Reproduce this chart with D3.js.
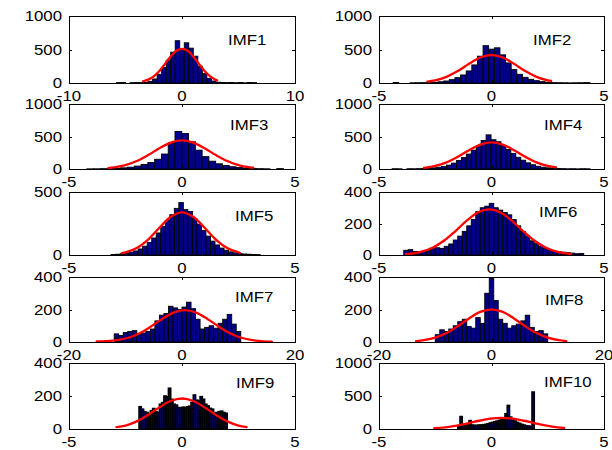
<!DOCTYPE html>
<html><head><meta charset="utf-8">
<script src="https://cdn.jsdelivr.net/npm/d3@7/dist/d3.min.js"></script>
<style>body{margin:0;background:#fff}</style>
</head><body>
<svg id="c" width="612" height="450"></svg>
<script>
// ---------- data ----------
const panelNames = ["IMF1","IMF2","IMF3","IMF4","IMF5","IMF6","IMF7","IMF8","IMF9","IMF10"];
const xLimits = [[-10,10],[-5,5],[-5,5],[-5,5],[-5,5],[-5,5],[-20,20],[-20,20],[-5,5],[-5,5]];
const yLimits = [[0,1000],[0,1000],[0,1000],[0,1000],[0,500],[0,400],[0,400],[0,400],[0,400],[0,1000]];
const xTickValues = [[-10,0,10],[-5,0,5],[-5,0,5],[-5,0,5],[-5,0,5],[-5,0,5],[-20,0,20],[-20,0,20],[-5,0,5],[-5,0,5]];
const yTickValues = [[0,500,1000],[0,500,1000],[0,500,1000],[0,500,1000],[0,500],[0,200,400],[0,200,400],[0,200,400],[0,200,400],[0,500,1000]];

// histogram bins: first edge and bin width
const binStart = [-6.2,-4.375,-4.51,-4.42,-3.14,-3.9,-12,-10,-1.9,-1.5];
const binWidth = [0.4,0.25,0.3,0.22,0.2,0.2,0.8,0.8,0.1,0.1];

const imf1Counts = [0,6,8,0,5,8,6,10,25,60,130,230,340,460,631,510,600,520,400,250,140,70,30,12,8,6,8,4,8,3,7,5];
const imf2Counts = [8,0,0,3,4,5,6,10,18,30,50,80,120,180,270,400,557,505,525,420,300,200,130,85,55,35,20,12,6,4,3,2,3,4,6];
const imf3Counts = [0,2,3,5,8,12,18,28,45,70,100,150,230,400,577,545,420,290,190,120,80,55,35,22,14,9,5,3,0,6];
const imf4Counts = [4,3,0,4,3,5,8,12,18,28,40,60,90,130,175,230,290,350,440,525,450,420,360,300,240,180,135,95,65,42,28,18,12,7,5,3,4,2,4,3];
const imf5Counts = [4,6,10,15,22,32,48,70,100,135,175,225,275,320,370,416,360,345,290,245,195,150,110,80,55,38,25,17,11,8,6,4,3];
const imf6Counts = [30,34,22,20,25,30,40,46,42,55,70,95,120,150,185,225,275,300,310,328,300,285,270,255,225,185,150,120,90,72,55,42,30,24,20,18,15,12,8,10];
const imf7Counts = [50,40,58,65,70,50,55,65,80,130,165,175,220,210,200,215,245,205,140,80,90,100,85,115,140,170,110,65];
const imf8Counts = [45,75,65,80,100,125,140,95,85,150,115,300,395,255,140,115,85,100,110,130,165,90,65,70,50];
const imf9Counts = [135,120,105,100,92,110,124,105,100,150,160,200,195,247,180,150,145,130,128,132,130,135,138,160,206,175,170,196,180,150,140,125,120,95,100,105,108,100,95];
const imf10Counts = [40,188,60,45,70,127,60,55,55,60,60,65,70,80,90,100,110,120,130,138,160,230,357,180,150,120,100,85,70,60,50,45,40,560];

// fitted normal curves, read as [x, count] points
const imf1Fit = [[-3.45,25],[-3,50],[-2.5,100],[-2,180],[-1.5,285],[-1,395],[-0.5,480],[0,510],[0.5,480],[1,395],[1.5,285],[2,180],[2.5,100],[3.1,40]];
const imf2Fit = [[-2.85,22],[-2.5,39],[-2,92],[-1.5,178],[-1,286],[-0.5,380],[0,418],[0.5,380],[1,286],[1.5,178],[2,92],[2.5,39],[2.65,30]];
const imf3Fit = [[-3.26,15],[-3,25],[-2.5,59],[-2,122],[-1.5,214],[-1,319],[-0.5,405],[0,439],[0.5,405],[1,319],[1.5,214],[2,122],[2.5,59],[3,25],[3.15,20]];
const imf4Fit = [[-3,18],[-2.5,47],[-2,102],[-1.5,188],[-1,290],[-0.5,376],[0,410],[0.5,376],[1,290],[1.5,188],[2,102],[2.5,47],[2.87,24]];
const imf5Fit = [[-2.66,15],[-2.5,20],[-2,55],[-1.5,122],[-1,216],[-0.5,303],[0,339],[0.5,303],[1,216],[1.5,122],[2,55],[2.56,18]];
const imf6Fit = [[-3.8,6],[-3.6,8],[-3.1,22],[-2.6,48],[-2.1,92],[-1.6,152],[-1.1,218],[-0.6,270],[-0.1,290],[0.4,270],[0.9,218],[1.4,152],[1.9,92],[2.4,48],[2.9,22],[3.4,9],[3.53,7]];
const imf7Fit = [[-15.1,3],[-13.5,5],[-11.5,11],[-9.5,26],[-7.5,54],[-5.5,95],[-3.5,142],[-1.5,181],[0.5,196],[2.5,181],[4.5,142],[6.5,95],[8.5,54],[10.5,26],[12.5,11],[14.5,4],[15.9,2]];
const imf8Fit = [[-13.4,5],[-12,11],[-10,27],[-8,55],[-6,97],[-4,145],[-2,185],[0,200],[2,185],[4,145],[6,97],[8,55],[10,27],[12,11],[13.3,6]];
const imf9Fit = [[-2.9,12],[-2.5,21],[-2,46],[-1.5,85],[-1,131],[-0.5,170],[0,185],[0.5,170],[1,131],[1.5,85],[2,46],[2.5,21],[2.86,12]];
const imf10Fit = [[-2.54,14],[-2.05,26],[-1.55,51],[-1.05,86],[-0.55,125],[-0.05,156],[0.45,168],[0.95,156],[1.45,125],[1.95,86],[2.45,51],[2.95,26],[3.23,17]];

const allCounts = [imf1Counts,imf2Counts,imf3Counts,imf4Counts,imf5Counts,imf6Counts,imf7Counts,imf8Counts,imf9Counts,imf10Counts];
const allFits = [imf1Fit,imf2Fit,imf3Fit,imf4Fit,imf5Fit,imf6Fit,imf7Fit,imf8Fit,imf9Fit,imf10Fit];

// ---------- layout / style ----------
const colX = [[69,295],[379,604]];
const rowY = [[16,83],[104,169],[192,255],[277,342],[363,429]];
const labelOffset = [[159,29],[154,29],[161,26],[165,26],[166,29],[160,25],[166,25],[166,28],[167,25],[165,24]];
const barStroke = [0.9,0.9,0.9,0.9,0.9,0.9,0.9,0.9,1.6,1.6];
const FS = 14, SX = 1.2;
const FONT = "'Liberation Sans', Arial, Helvetica, sans-serif";

const svg = d3.select("#c");
svg.append("rect").attr("width",612).attr("height",450).attr("fill","#fff");

function txt(g, x, y, s, anchor, dy){
  g.append("text")
    .attr("transform", `translate(${x},${y}) scale(${SX},1)`)
    .attr("text-anchor", anchor)
    .attr("dy", dy || 0)
    .attr("font-family", FONT)
    .attr("font-size", FS)
    .attr("fill", "#000")
    .text(s);
}

panelNames.forEach((name, i) => {
  const col = i % 2, row = Math.floor(i / 2);
  const [x0, x1] = colX[col], [y0, y1] = rowY[row];
  const x = d3.scaleLinear().domain(xLimits[i]).range([x0, x1]);
  const y = d3.scaleLinear().domain(yLimits[i]).range([y1, y0]);
  const g = svg.append("g");

  const clipId = "clip" + i;
  svg.append("clipPath").attr("id", clipId).append("rect")
    .attr("x", x0).attr("y", y0).attr("width", x1 - x0).attr("height", y1 - y0);

  const bins = allCounts[i].map((c, k) => ({
    a: binStart[i] + k * binWidth[i],
    b: binStart[i] + (k + 1) * binWidth[i],
    c: c
  }));
  const plot = g.append("g").attr("clip-path", `url(#${clipId})`);
  plot.selectAll("rect.bar").data(bins).join("rect")
    .attr("class", "bar")
    .attr("x", d => x(d.a))
    .attr("width", d => x(d.b) - x(d.a))
    .attr("y", d => y(d.c))
    .attr("height", d => y(0) - y(d.c))
    .attr("fill", "#000088")
    .attr("stroke", "#000")
    .attr("stroke-width", barStroke[i]);

  const line = d3.line().x(d => x(d[0])).y(d => y(d[1])).curve(d3.curveCatmullRom);
  plot.append("path").datum(allFits[i]).attr("d", line)
    .attr("fill", "none").attr("stroke", "#ff0000").attr("stroke-width", 2.3)
    .attr("stroke-linejoin", "round").attr("stroke-linecap", "round");

  // box
  g.append("rect").attr("x", x0 + 0.5).attr("y", y0 + 0.5)
    .attr("width", x1 - x0).attr("height", y1 - y0)
    .attr("fill", "none").attr("stroke", "#000").attr("stroke-width", 1);

  const TL = 3;
  xTickValues[i].forEach(v => {
    const px = Math.round(x(v)) + 0.5;
    g.append("line").attr("x1", px).attr("x2", px).attr("y1", y1).attr("y2", y1 - TL).attr("stroke", "#000");
    g.append("line").attr("x1", px).attr("x2", px).attr("y1", y0).attr("y2", y0 + TL).attr("stroke", "#000");
    txt(g, x(v), y1 + 18, String(v), "middle");
  });
  yTickValues[i].forEach(v => {
    const py = Math.round(y(v)) + 0.5;
    g.append("line").attr("x1", x0).attr("x2", x0 + TL).attr("y1", py).attr("y2", py).attr("stroke", "#000");
    g.append("line").attr("x1", x1).attr("x2", x1 - TL).attr("y1", py).attr("y2", py).attr("stroke", "#000");
    txt(g, x0 - 7, y(v), String(v), "end", "0.36em");
  });

  txt(g, x0 + labelOffset[i][0], y0 + labelOffset[i][1], name, "start");
});
</script>
</body></html>
